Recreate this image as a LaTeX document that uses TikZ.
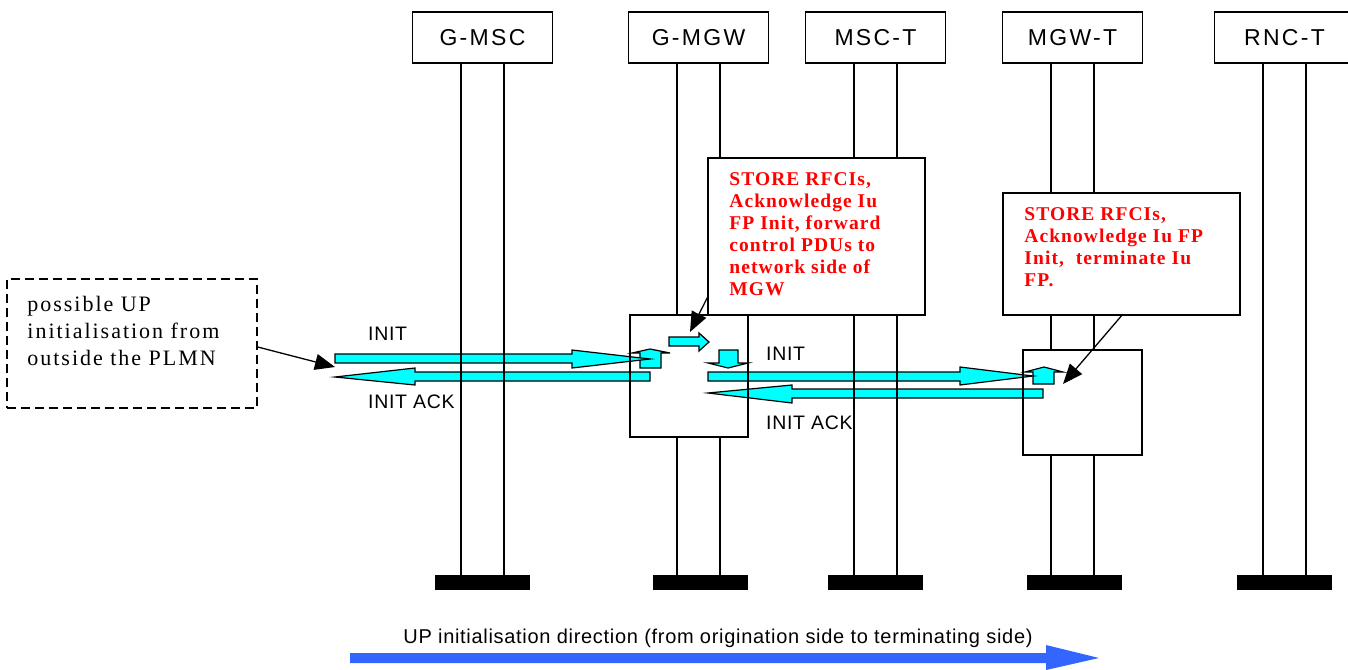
\documentclass[tikz,border=0pt]{standalone}
\usepackage{fontspec}
\setmainfont{Liberation Sans}
\newfontfamily\hdrfont[LetterSpace=10]{Liberation Sans}
\newfontfamily\lblfont[LetterSpace=3.5]{Liberation Sans}
\newfontfamily\redfont[LetterSpace=5.5]{Liberation Serif}
\newfontfamily\plainfont[LetterSpace=9]{Liberation Serif}
\usetikzlibrary{positioning,arrows.meta,backgrounds}
\definecolor{upblue}{RGB}{51,102,255}
\definecolor{msgcyan}{RGB}{0,255,255}
\tikzset{
  hdr/.style={draw, line width=1.5pt, minimum width=140pt, minimum height=51pt, inner sep=0pt,
    font=\hdrfont\fontsize{23}{27}\selectfont},
  bar/.style={fill=black, minimum width=95pt, minimum height=15pt, inner sep=0pt},
  life/.style={line width=1.6pt},
  actbox/.style={draw, line width=1.5pt, inner sep=0pt},
  notebox/.style={draw, fill=white, line width=1.5pt, inner sep=0pt},
  redtext/.style={text=red, font=\redfont\bfseries\fontsize{19.5}{22}\selectfont, align=left, inner sep=0pt},
  plaintext/.style={font=\plainfont\fontsize{22}{26.7}\selectfont, align=left, inner sep=0pt},
  msg/.style={fill=msgcyan, draw=black, line width=1.2pt, line join=miter},
  lbl/.style={font=\lblfont\fontsize{19.5}{23}\selectfont, inner sep=0pt, anchor=base west},
  callout/.style={line width=1.3pt, -{Triangle[length=20pt,width=16pt]}}
}
\begin{document}
\begin{tikzpicture}[x=1pt,y=-1pt]
\useasboundingbox (0,0) rectangle (1348,669);
% Entities
\node[hdr] (gmsc) at (482.5,37.5) {G-MSC};
\node[hdr] (gmgw) at (698.5,37.5) {G-MGW};
\node[hdr] (msct) at (875.5,37.5) {MSC-T};
\node[hdr] (mgwt) at (1072.5,37.5) {MGW-T};
\node[hdr] (rnct) at (1284.5,37.5) {RNC-T};
% Bars
\node[bar, below = 511pt of gmsc] (gmscbar) {};
\node[bar, below = 511pt of gmgw, xshift=2pt] (gmgwbar) {};
\node[bar, below = 511pt of msct] (msctbar) {};
\node[bar, below = 511pt of mgwt, xshift=2pt] (mgwtbar) {};
\node[bar, below = 511pt of rnct] (rnctbar) {};
% Activity boxes
\node[actbox, minimum width=118pt, minimum height=122pt] (gact) at (689,376) {};
\node[actbox, minimum width=119pt, minimum height=105pt] (tact) at (1082.5,402.5) {};
% Messages
\begin{scope}[on background layer]
\filldraw[msg] (640,368) -- (640,353) -- (632,353) -- (650,349) -- (670,353) -- (661,353) -- (661,368) -- cycle; % g-mgw up arrow
\filldraw[msg] (1033,384) -- (1033,372) -- (1025,372) -- (1044,367) -- (1063,372) -- (1054,372) -- (1054,384) -- cycle; % mgw-t up arrow
\filldraw[msg] (669,337) -- (699,337) -- (699,333) -- (709,342) -- (699,351) -- (699,346) -- (669,346) -- cycle; % forward arrow
\filldraw[msg] (719,350) -- (738,350) -- (738,363) -- (748,363) -- (728,368) -- (708,363) -- (719,363) -- cycle; % down arrow
\filldraw[msg] (335,354) -- (572,354) -- (572,350) -- (650,359) -- (572,368) -- (572,363) -- (335,363) -- cycle; % init left
\filldraw[msg] (335,377) -- (415,368) -- (415,372) -- (650,372) -- (650,381) -- (415,381) -- (415,385) -- cycle; % init ack left
\filldraw[msg] (708,372) -- (960,372) -- (960,367) -- (1033,376) -- (960,385) -- (960,381) -- (708,381) -- cycle; % init right
\filldraw[msg] (708,393) -- (792,385) -- (792,389) -- (1043,389) -- (1043,398) -- (792,398) -- (792,403) -- cycle; % init ack right
\end{scope}
% Lifelines
\draw[life] ([xshift=-21.5pt]gmsc.south) -- ([xshift=-21.5pt]gmsc.south |- gmscbar.north); % g-msc left
\draw[life] ([xshift=21.5pt]gmsc.south) -- ([xshift=21.5pt]gmsc.south |- gmscbar.north); % g-msc right
\draw[life] ([xshift=-21.5pt]gmgw.south) -- ([xshift=-21.5pt]gmgw.south |- gact.north); % g-mgw left top
\draw[life] ([xshift=21.5pt]gmgw.south) -- ([xshift=21.5pt]gmgw.south |- gact.north); % g-mgw right top
\draw[life] ([xshift=-21.5pt]gmgw.south |- gact.south) -- ([xshift=-21.5pt]gmgw.south |- gmgwbar.north); % g-mgw left bottom
\draw[life] ([xshift=21.5pt]gmgw.south |- gact.south) -- ([xshift=21.5pt]gmgw.south |- gmgwbar.north); % g-mgw right bottom
\draw[life] ([xshift=-21.5pt]msct.south) -- ([xshift=-21.5pt]msct.south |- msctbar.north); % msc-t left
\draw[life] ([xshift=21.5pt]msct.south) -- ([xshift=21.5pt]msct.south |- msctbar.north); % msc-t right
\draw[life] ([xshift=-21.5pt]mgwt.south) -- ([xshift=-21.5pt]mgwt.south |- tact.north); % mgw-t left top
\draw[life] ([xshift=21.5pt]mgwt.south) -- ([xshift=21.5pt]mgwt.south |- tact.north); % mgw-t right top
\draw[life] ([xshift=-21.5pt]mgwt.south |- tact.south) -- ([xshift=-21.5pt]mgwt.south |- mgwtbar.north); % mgw-t left bottom
\draw[life] ([xshift=21.5pt]mgwt.south |- tact.south) -- ([xshift=21.5pt]mgwt.south |- mgwtbar.north); % mgw-t right bottom
\draw[life] ([xshift=-21.5pt]rnct.south) -- ([xshift=-21.5pt]rnct.south |- rnctbar.north); % rnc-t left
\draw[life] ([xshift=21.5pt]rnct.south) -- ([xshift=21.5pt]rnct.south |- rnctbar.north); % rnc-t right
% Notes
\node[notebox, minimum width=217pt, minimum height=157pt] (gnote) at (816.5,236.5) {};
\node[redtext, below right = 15pt and 22pt of gnote.north west] (gnotetxt) {STORE RFCIs,\\Acknowledge Iu\\FP Init, forward\\control PDUs to\\network side of\\MGW};
\node[notebox, minimum width=237pt, minimum height=122pt] (tnote) at (1121.5,254) {};
\node[redtext, below right = 15pt and 22pt of tnote.north west] (tnotetxt) {STORE RFCIs,\\Acknowledge Iu FP\\Init,\ \ terminate Iu\\FP.};
\node[draw, line width=1.5pt, dash pattern=on 9pt off 5pt, minimum width=250pt, minimum height=129pt] (dnote) at (132,343.5) {};
\node[plaintext, below right = 18pt and 21pt of dnote.north west] (dnotetxt) {possible UP\\initialisation from\\outside the PLMN};
% Callouts
\coordinate (gtip) at (690,332);
\coordinate (ttip) at (1063,384);
\coordinate (dtip) at (335,367);
\draw[callout] ([yshift=18pt]gnote.south west) -- (gtip);
\draw[callout] (tnote.south) -- (ttip);
\draw[callout] ([yshift=-3.5pt]dnote.east) -- (dtip);
% Labels
\node[lbl] (initl) at (368,340) {INIT};
\node[lbl] (ackl) at (368,408) {INIT ACK};
\node[lbl] (initr) at (766,360) {INIT};
\node[lbl] (ackr) at (766,429) {INIT ACK};
% Direction
\node[lbl, anchor=base, font=\lblfont\fontsize{20}{24}\selectfont] (dirtxt) at (718,643) {UP initialisation direction (from origination side to terminating side)};
\fill[upblue] (350,653) -- (1046,653) -- (1046,645) -- (1099,658) -- (1046,670) -- (1046,663) -- (350,663) -- cycle;
\end{tikzpicture}
\end{document}
